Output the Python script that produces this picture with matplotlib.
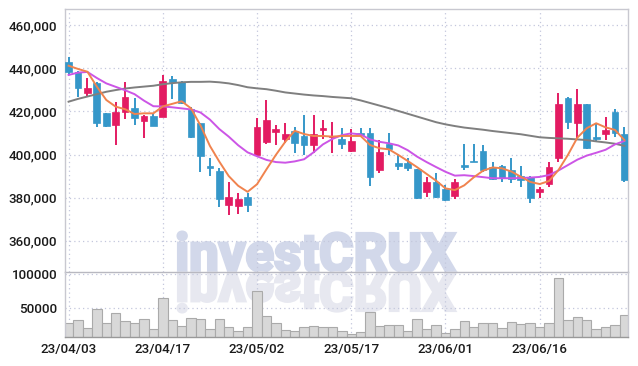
import matplotlib
matplotlib.use("Agg")
import matplotlib.pyplot as plt
from matplotlib.textpath import TextPath
from matplotlib.patches import PathPatch
from matplotlib.font_manager import FontProperties
from matplotlib.transforms import Affine2D
from matplotlib.ticker import FuncFormatter

# trading days, 2023-04-03 .. 2023-06-29
dates = ["23/04/03", "23/04/04", "23/04/05", "23/04/06", "23/04/07",
         "23/04/10", "23/04/11", "23/04/12", "23/04/13", "23/04/14",
         "23/04/17", "23/04/18", "23/04/19", "23/04/20", "23/04/21",
         "23/04/24", "23/04/25", "23/04/26", "23/04/27", "23/04/28",
         "23/05/02", "23/05/03", "23/05/04", "23/05/08", "23/05/09",
         "23/05/10", "23/05/11", "23/05/12", "23/05/15", "23/05/16",
         "23/05/17", "23/05/18", "23/05/19", "23/05/22", "23/05/23",
         "23/05/24", "23/05/25", "23/05/26", "23/05/30", "23/05/31",
         "23/06/01", "23/06/02", "23/06/05", "23/06/07", "23/06/08",
         "23/06/09", "23/06/12", "23/06/13", "23/06/14", "23/06/15",
         "23/06/16", "23/06/19", "23/06/20", "23/06/21", "23/06/22",
         "23/06/23", "23/06/26", "23/06/27", "23/06/28", "23/06/29"]

opens = [443100, 438400, 428700, 433300, 419100, 413700, 419700, 421700, 415700, 418000,
         417500, 435000, 433800, 421300, 414500, 394800, 392400, 376600, 376100, 380300,
         399800, 405900, 410600, 407300, 410900, 408600, 404600, 411400, 408100, 407200,
         401600, 410100, 410100, 392800, 405100, 396200, 396200, 393300, 382700, 387400,
         383900, 380800, 395100, 397000, 401600, 394200, 394700, 392800, 390000, 389400,
         382400, 386300, 398200, 426400, 414500, 423400, 408100, 409500, 419900, 409500]
highs = [445400, 438600, 435400, 433500, 419300, 424400, 433800, 426100, 418300, 419400,
         436900, 436400, 434000, 422000, 414700, 398500, 393600, 387200, 382000, 382000,
         416900, 425200, 413900, 414800, 412800, 418300, 418200, 415900, 414900, 412200,
         412000, 412400, 412200, 406600, 410000, 400400, 398600, 393500, 389700, 391600,
         385900, 388500, 404800, 404800, 404400, 396700, 395000, 398200, 394800, 390000,
         384800, 396400, 428400, 426800, 430300, 423500, 414300, 417400, 421000, 412600]
lows = [436900, 426500, 426800, 412900, 412900, 404300, 416300, 413700, 407500, 413000,
        417300, 425800, 423500, 407800, 392000, 390200, 375800, 371900, 372400, 373500,
        398700, 404900, 404400, 405200, 400900, 399800, 400500, 407200, 400900, 402600,
        401300, 407900, 385400, 391600, 399800, 392700, 392200, 379400, 380300, 379900,
        378400, 379200, 392800, 396500, 391700, 388000, 387400, 386900, 384800, 377300,
        380000, 385100, 396400, 411700, 407500, 402700, 405800, 406700, 408300, 387400]
closes = [438100, 430700, 431000, 414800, 413200, 419700, 426700, 417100, 418000, 413200,
          434100, 433500, 423800, 408300, 399500, 393900, 379400, 380300, 379400, 376600,
          412800, 415900, 411800, 409500, 405500, 404600, 409500, 412300, 408500, 404900,
          406300, 409200, 389700, 401300, 402600, 394800, 393900, 379700, 387400, 380300,
          379100, 387200, 394400, 396700, 392800, 388500, 389100, 388500, 388400, 379800,
          384000, 394100, 423400, 414900, 423400, 403200, 407100, 411400, 409800, 388200]
volumes = [26850, 31300, 19440, 47630, 26850, 41690, 29820, 26850, 32790, 17950,
           63950, 31300, 22850, 34270, 32790, 17950, 32790, 20920, 14990, 20920,
           74330, 37240, 26850, 16470, 14990, 20920, 22400, 20920, 20920, 14400,
           10530, 13500, 42580, 22400, 23890, 23890, 14400, 32790, 17950, 23890,
           11900, 17950, 29820, 20920, 26850, 26850, 19440, 28340, 25370, 26850,
           20920, 26850, 93620, 31300, 35760, 31300, 17950, 20920, 23890, 38720]

# moving averages as shown on the chart
ma_short = [441200, 439700, 438400, 431500, 425300, 422200, 421000, 418800, 419100, 419100,
            422300, 423500, 424700, 421400, 413500, 404000, 396700, 390000, 385500, 382700,
            386200, 393100, 399800, 405900, 411000, 409500, 408600, 408600, 408300, 408600,
            408600, 408600, 404400, 402900, 402400, 399800, 397000, 394100, 391000, 387900,
            384300, 383500, 385700, 389400, 392500, 394000, 393600, 392100, 389700, 387300,
            386300, 387700, 392800, 399800, 407800, 412200, 414500, 412600, 411400, 406700]
ma_mid = [436900, 438000, 438300, 435500, 433000, 431400, 429800, 428000, 425000, 422400,
          422300, 421900, 421400, 420900, 419500, 416200, 411800, 408300, 404300, 401000,
          399200, 397500, 396500, 396200, 396800, 397800, 401000, 404700, 407200, 409000,
          409800, 409300, 407000, 405900, 405200, 404200, 402000, 399000, 396500, 394200,
          392000, 390200, 390400, 390000, 389500, 389000, 389000, 389000, 389100, 389300,
          389600, 390500, 392600, 395100, 397600, 399500, 400800, 402200, 404700, 406300]
ma_long = [424500, 425800, 426900, 428000, 429100, 429900, 430600, 431100, 431500, 431900,
           432600, 433100, 433500, 433700, 433700, 433800, 433500, 433000, 432200, 431200,
           430700, 430300, 429600, 428800, 428300, 427800, 427400, 427100, 426700, 426400,
           426100, 425100, 423900, 422700, 421500, 420200, 418900, 417600, 416300, 415000,
           414000, 413200, 412500, 412000, 411500, 410900, 410400, 409900, 409400, 408700,
           408000, 407700, 407500, 407300, 407000, 406700, 406100, 405600, 405000, 404000]

price_ticks = [360000, 380000, 400000, 420000, 440000, 460000]
volume_ticks = [50000, 100000]
date_ticks = [0, 10, 20, 30, 40, 50]

UP = "#e31b62"
DOWN = "#3597c9"
GRID = "#c3c7dc"

plt.rcParams["font.family"] = ["Roboto", "DejaVu Sans"]

fig = plt.figure(figsize=(6.38, 3.66), dpi=100)
fig.patch.set_facecolor("white")
W, H = 638, 366
left, right = 65, 628
ax = fig.add_axes([left / W, (H - 272) / H, (right - left) / W, 263 / H])
axv = fig.add_axes([left / W, (H - 337) / H, (right - left) / W, 65 / H], sharex=ax)
for a in (ax, axv):
    a.set_facecolor("none")
    a.grid(True, color=GRID, linestyle=(0, (1, 2.5)), linewidth=0.9)
    a.tick_params(length=0, labelsize=9.6, colors="#1a1a1a", pad=5.5)
    for s in a.spines.values():
        s.set_color("#c8c8d0")
        s.set_linewidth(1)
    for lab in a.get_yticklabels() + a.get_xticklabels():
        lab.set_fontweight("medium")

x = list(range(len(dates)))
for i in x:
    o, h, l, c = opens[i], highs[i], lows[i], closes[i]
    col = UP if c >= o else DOWN
    ax.vlines(i, l, h, color=col, linewidth=1.4, zorder=2)
    ax.bar(i, max(abs(c - o), 250), bottom=min(o, c), width=0.72, color=col,
           edgecolor=col, linewidth=0.5, zorder=3)

ax.plot(x, ma_long, color="#7f7f7f", linewidth=1.4, zorder=4)
ax.plot(x, ma_mid, color="#cc55e6", linewidth=1.4, zorder=4)
ax.plot(x, ma_short, color="#f0834e", linewidth=1.4, zorder=4)

ax.set_ylim(345500, 467500)
ax.set_yticks(price_ticks)
ax.yaxis.set_major_formatter(FuncFormatter(lambda v, p: f"{int(v):,}"))
ax.tick_params(axis="x", labelbottom=False)
ax.spines["bottom"].set_color("#b8b8c0")

axv.bar(x, volumes, width=1.0, color="#d8d8d8", edgecolor="#aaaaaa", linewidth=0.8, zorder=2)
axv.set_ylim(6000, 103000)
axv.set_yticks(volume_ticks)
axv.yaxis.set_major_formatter(FuncFormatter(lambda v, p: f"{int(v)}"))
axv.set_xticks(date_ticks)
axv.set_xticklabels([dates[i] for i in date_ticks], fontweight="medium")
axv.tick_params(axis="x", pad=4)
axv.set_xlim(-0.38, 59.38)
axv.spines["top"].set_visible(False)
axv.spines["bottom"].set_color("#999999")
for lab in ax.get_yticklabels() + axv.get_yticklabels():
    lab.set_fontweight("medium")

# watermark with reflection, drawn behind the axes (pixel coordinates)
fp = FontProperties(family=["Roboto", "DejaVu Sans"], weight="bold")
tp = TextPath((0, 0), "investCRUX", size=1, prop=fp)
ext = tp.get_extents()
x0, x1, base, top = 178, 455, H - 272, 39
sx = (x1 - x0) / ext.width
sy = top / ext.y1
to_fig = Affine2D().scale(1 / fig.dpi) + fig.dpi_scale_trans
wm = Affine2D().translate(-ext.x0, 0).scale(sx, sy).translate(x0, base + 1)
fig.add_artist(PathPatch(tp, transform=wm + to_fig, facecolor="#d2d8ea",
                         edgecolor="#d2d8ea", linewidth=2.2, zorder=-1))
rf = Affine2D().translate(-ext.x0, 0).scale(sx, -sy).translate(x0, base - 1)
fig.add_artist(PathPatch(tp, transform=rf + to_fig, facecolor="#e7e8f0",
                         edgecolor="#e7e8f0", linewidth=2.2, zorder=-1))

fig.savefig("out.png", dpi=100)
